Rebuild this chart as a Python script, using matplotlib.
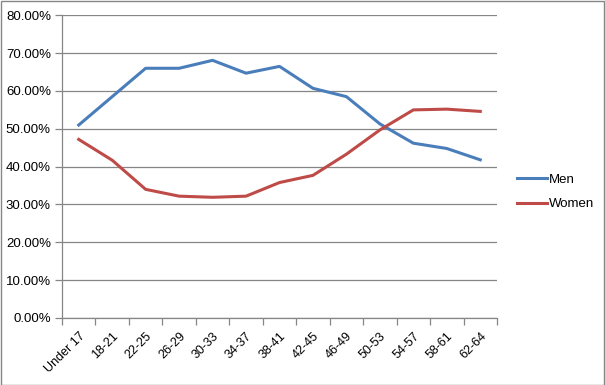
import matplotlib
matplotlib.use("Agg")
import matplotlib.pyplot as plt
from matplotlib.patches import Rectangle
from matplotlib.ticker import FixedLocator, PercentFormatter
import numpy as np

categories = ["Under 17", "18-21", "22-25", "26-29", "30-33", "34-37", "38-41",
              "42-45", "46-49", "50-53", "54-57", "58-61", "62-64"]
men = [51.0, 58.5, 66.0, 66.0, 68.1, 64.7, 66.5, 60.7, 58.5, 51.3, 46.2, 44.8, 41.8]
women = [47.2, 41.7, 34.0, 32.2, 31.9, 32.2, 35.8, 37.7, 43.3, 49.7, 55.0, 55.2, 54.6]
y_ticks = [0, 10, 20, 30, 40, 50, 60, 70, 80]

plt.rcParams['font.family'] = ['Liberation Sans', 'DejaVu Sans']

fig = plt.figure(figsize=(6.05, 3.85), dpi=100)
ax = fig.add_axes([62/605, 1-318/385, (497-62)/605, (318-15.3)/385])

x = np.arange(len(categories))
grid_c = "#868686"
ax.plot(x, men, color="#4A7EBB", lw=2.2, label="Men", solid_joinstyle="round")
ax.plot(x, women, color="#BE4B48", lw=2.2, label="Women", solid_joinstyle="round")

ax.set_xlim(-0.5, len(categories) - 0.5)
ax.set_ylim(0, 80)
ax.yaxis.set_major_locator(FixedLocator(y_ticks))
ax.yaxis.set_major_formatter(PercentFormatter(decimals=2))
ax.grid(axis="y", color=grid_c, lw=0.9)
ax.set_axisbelow(True)

ax.set_xticks(x)
ax.set_xticklabels(categories, rotation=45, ha="right", rotation_mode="anchor", fontsize=9)
ax.set_xticks(np.arange(-0.5, len(categories)), minor=True)
ax.tick_params(axis="x", which="major", length=0, pad=9)
ax.tick_params(axis="x", which="minor", length=5, color=grid_c, width=0.9)
ax.tick_params(axis="y", length=5, color=grid_c, width=0.9, labelsize=9.5, pad=3)

for s in ["top", "right"]:
    ax.spines[s].set_visible(False)
for s in ["left", "bottom"]:
    ax.spines[s].set_color(grid_c)
    ax.spines[s].set_linewidth(0.9)

leg = fig.legend(loc="center left", bbox_to_anchor=(505/605, 1-192/385), frameon=False,
                 fontsize=9.5, handlelength=2.3, handletextpad=0.1, labelspacing=0.9)

fig.patches.append(Rectangle((0.5/605, 0.5/385), 1-1.5/605, 1-1.5/385, transform=fig.transFigure,
                             fill=False, edgecolor="#868686", lw=1.0))

fig.savefig("out.png", dpi=100)
